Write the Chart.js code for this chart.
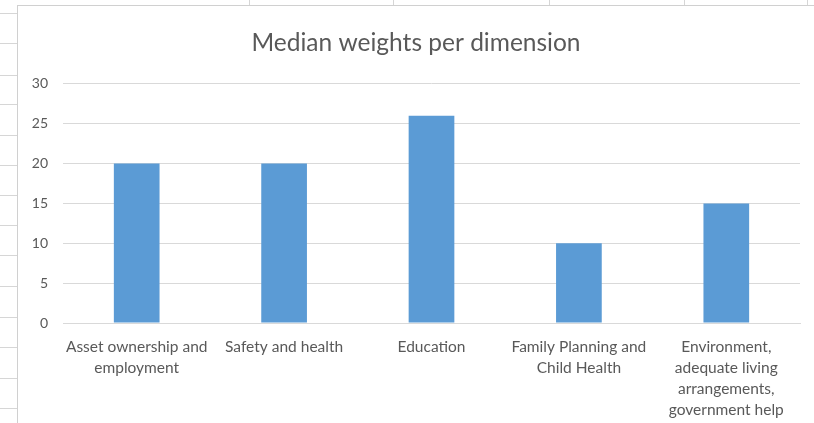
<!DOCTYPE html>
<html>
<head>
<meta charset="utf-8">
<script src="https://cdn.jsdelivr.net/npm/chart.js@4/dist/chart.umd.min.js"></script>
<style>
  html, body { margin: 0; padding: 0; background: #fff; }
  body { width: 814px; height: 423px; position: relative; overflow: hidden; }
  .row { position: absolute; left: 0; width: 18px; height: 1px; background: #d6d6d6; }
  .col { position: absolute; top: 0; width: 1px; height: 6px; background: #d6d6d6; }
  #frame {
    position: absolute; left: 17px; top: 5px; width: 810px; height: 430px;
    border-left: 1px solid #d0d0d0; border-top: 1px solid #d0d0d0; background: #fff;
  }
  #wrap { position: absolute; left: 18px; top: 6px; width: 796px; height: 417px; }
</style>
</head>
<body>
<div id="sheet"></div>
<div id="frame"></div>
<div id="wrap"><canvas id="medianChart" width="796" height="417"></canvas></div>
<script>
// worksheet grid peeking out around the chart object
const sheet = document.getElementById('sheet');
[13, 43, 75, 104, 135, 165, 195, 225, 255, 286, 317, 347, 378, 408].forEach(y => {
    const d = document.createElement('div');
    d.className = 'row';
    d.style.top = y + 'px';
    sheet.appendChild(d);
});
[249, 393, 549, 684, 807].forEach(x => {
    const d = document.createElement('div');
    d.className = 'col';
    d.style.left = x + 'px';
    sheet.appendChild(d);
});

const dimensions = [
    ['Asset ownership and', 'employment'],
    'Safety and health',
    'Education',
    ['Family Planning and', 'Child Health'],
    ['Environment,', 'adequate living', 'arrangements,', 'government help']
];
const medianWeights = [20, 20, 26, 10, 15];
const yTicks = [0, 5, 10, 15, 20, 25, 30];

const textColor = '#595959';
const gridColor = '#d9d9d9';
const fontFamily = 'Lato, "Open Sans", sans-serif';

const ctx = document.getElementById('medianChart').getContext('2d');
let medianChart = new Chart(ctx, {
    type: 'bar',
    data: {
        labels: dimensions,
        datasets: [{
            label: 'Median weight',
            data: medianWeights,
            backgroundColor: '#5b9bd5',
            borderWidth: 0,
            barPercentage: 0.31,
            categoryPercentage: 1
        }]
    },
    options: {
        responsive: false,
        animation: false,
        layout: {
            padding: { left: 14, right: 14, top: 0, bottom: 0 }
        },
        plugins: {
            legend: { display: false },
            tooltip: { enabled: false },
            title: {
                display: true,
                text: 'Median weights per dimension',
                color: textColor,
                font: { family: fontFamily, size: 24.5, weight: 'normal' },
                padding: { top: 22, bottom: 26.5 }
            }
        },
        scales: {
            x: {
                afterFit: axis => {
                    axis.height = 100;
                },
                grid: { display: false, drawTicks: false },
                border: { display: true, color: gridColor },
                ticks: {
                    color: textColor,
                    font: { family: fontFamily, size: 15.5, lineHeight: 1.35 },
                    padding: 13.5,
                    maxRotation: 0,
                    autoSkip: false
                }
            },
            y: {
                min: 0,
                max: 30,
                afterBuildTicks: axis => {
                    axis.ticks = yTicks.map(v => ({ value: v }));
                },
                afterFit: axis => {
                    axis.width = 31;
                },
                grid: { color: gridColor, drawTicks: false },
                border: { display: false },
                ticks: {
                    color: textColor,
                    font: { family: fontFamily, size: 14 },
                    padding: 15
                }
            }
        }
    }
});
</script>
</body>
</html>
